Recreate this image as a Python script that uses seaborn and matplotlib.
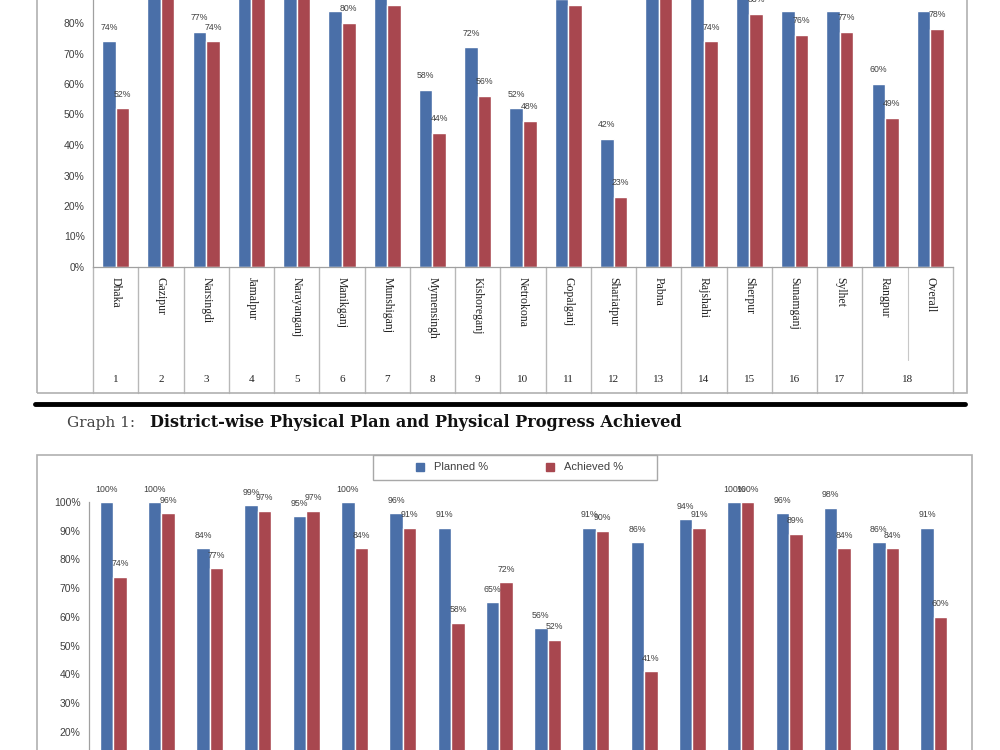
import matplotlib
matplotlib.use("Agg")
import matplotlib.pyplot as plt
import matplotlib.transforms as mtransforms
from matplotlib.patches import Rectangle
from matplotlib.lines import Line2D
import seaborn as sns
import pandas as pd

# ---------------- data ----------------
series_names = ["Planned %", "Achieved %"]

top_categories = ["Dhaka", "Gazipur", "Narsingdi", "Jamalpur", "Narayanganj", "Manikganj",
                  "Munshiganj", "Mymensingh", "Kishoreganj", "Netrokona", "Gopalganj",
                  "Shariatpur", "Pabna", "Rajshahi", "Sherpur", "Sunamganj", "Sylhet",
                  "Rangpur", "Overall"]
top_numbers = ["1", "2", "3", "4", "5", "6", "7", "8", "9", "10", "11", "12", "13",
               "14", "15", "16", "17", "18"]
top_planned = [74, 100, 77, 100, 100, 84, 90, 58, 72, 52, 88, 42, 100, 92, 90, 84, 84, 60, 84]
top_achieved = [52, 99, 74, 100, 100, 80, 86, 44, 56, 48, 86, 23, 98, 74, 83, 76, 77, 49, 78]

bottom_categories = ["D1", "D2", "D3", "D4", "D5", "D6", "D7", "D8", "D9", "D10", "D11",
                     "D12", "D13", "D14", "D15", "D16", "D17", "D18"]
bottom_planned = [100, 100, 84, 99, 95, 100, 96, 91, 65, 56, 91, 86, 94, 100, 96, 98, 86, 91]
bottom_achieved = [74, 96, 77, 97, 97, 84, 91, 58, 72, 52, 90, 41, 91, 100, 89, 84, 84, 60]

y_ticks = [0, 10, 20, 30, 40, 50, 60, 70, 80, 90, 100]
caption_lead = "Graph 1: "
caption_main = "District-wise Physical Plan and Physical Progress Achieved"

# ---------------- style ----------------
sns.set_style("white")
plt.rcParams["font.family"] = ["Liberation Sans", "DejaVu Sans"]
BLUE = "#4A6FA8"
RED = "#A8474F"
GRID = "#A0A0A0"
TXT = "#404040"
SERIF = ["Liberation Serif", "DejaVu Serif"]
WIDE_SERIF = ["DejaVu Serif"]

W, H = 1000, 750
fig = plt.figure(figsize=(10, 7.5), dpi=100)


def fx(px):
    return px / W


def fy(py):
    return 1 - py / H


def long_df(cats, planned, achieved):
    return pd.DataFrame({
        "district": list(cats) * 2,
        "series": [series_names[0]] * len(cats) + [series_names[1]] * len(cats),
        "value": list(planned) + list(achieved),
    })


def style_axes(ax, pad):
    ax.set_ylim(0, 100)
    ax.set_yticks(y_ticks)
    ax.set_yticklabels([f"{t}%" for t in y_ticks], fontsize=7.5, color=TXT)
    ax.tick_params(axis="y", length=3, direction="out", color=GRID, pad=3)
    ax.tick_params(axis="x", length=0, labelbottom=False)
    ax.set_xlabel("")
    ax.set_ylabel("")
    for s in ["top", "right"]:
        ax.spines[s].set_visible(False)
    for s in ["left", "bottom"]:
        ax.spines[s].set_color(GRID)
        ax.spines[s].set_linewidth(0.9)
    ax.set_facecolor("none")
    for c in ax.containers:
        ax.bar_label(c, labels=[f"{int(round(v))}%" for v in c.datavalues],
                     padding=pad, fontsize=6.3, color=TXT)


# ---------------- top chart ----------------
top_px0, top_pxh = 267, 305
ax1 = fig.add_axes([fx(93), fy(top_px0), fx(953) - fx(93), top_pxh / H])
sns.barplot(data=long_df(top_categories, top_planned, top_achieved), x="district", y="value",
            hue="series", palette=[BLUE, RED], width=0.6, saturation=1, errorbar=None,
            legend=False, ax=ax1)
style_axes(ax1, 7)
ax1.set_xlim(-0.5, len(top_categories) - 0.5)

trans = mtransforms.blended_transform_factory(ax1.transData, ax1.transAxes)


def ay(py):
    return -(py - top_px0) / top_pxh


for k in range(-1, len(top_categories)):
    xline = k + 0.5
    if k == len(top_categories) - 2:
        ax1.plot([xline, xline], [0, ay(360)], transform=trans, color="#C8C8C8",
                 lw=0.8, clip_on=False)
    else:
        ax1.plot([xline, xline], [0, ay(393)], transform=trans, color="#B8B8B8",
                 lw=1.0, clip_on=False)

for i, name in enumerate(top_categories):
    ax1.text(i, ay(277), name, rotation=270, ha="center", va="top", transform=trans,
             fontsize=8.5, family=SERIF, color="#222222")
for i, num in enumerate(top_numbers):
    xpos = i if i < len(top_numbers) - 1 else i + 0.5
    ax1.text(xpos, ay(380), num, ha="center", va="center", transform=trans,
             fontsize=8, family=SERIF, color="#222222")

# frame of top chart
fig.add_artist(Rectangle((fx(37), fy(393)), fx(967) - fx(37), 1.0,
                         transform=fig.transFigure, fill=False, ec="#B0B0B0", lw=1.2))

# thick rule and caption
fig.add_artist(Line2D([fx(35), fx(965)], [fy(404), fy(404)], color="black", lw=3.5,
                      transform=fig.transFigure))
fig.text(fx(67), fy(423), caption_lead, family=WIDE_SERIF, fontsize=11, va="center",
         color="#444444")
fig.text(fx(150), fy(423), caption_main, family=WIDE_SERIF, fontsize=11.6, fontweight="bold",
         va="center", color="#111111")

# ---------------- bottom chart ----------------
ax2 = fig.add_axes([fx(89), fy(789), fx(958) - fx(89), 287 / H])
sns.barplot(data=long_df(bottom_categories, bottom_planned, bottom_achieved), x="district",
            y="value", hue="series", palette=[BLUE, RED], width=0.56, saturation=1,
            errorbar=None, legend=False, ax=ax2)
style_axes(ax2, 6)
ax2.set_xlim(-0.5, len(bottom_categories) - 0.5)

fig.add_artist(Rectangle((fx(37), -0.2), fx(972) - fx(37), fy(455) + 0.2,
                         transform=fig.transFigure, fill=False, ec="#B0B0B0", lw=1.2))

# legend
fig.add_artist(Rectangle((fx(373), fy(480)), fx(657) - fx(373), 25 / H,
                         transform=fig.transFigure, fill=False, ec="#A8A8A8", lw=1.0))
handles = [Line2D([], [], marker="s", linestyle="none", markersize=6,
                  markerfacecolor=c, markeredgecolor=c) for c in (BLUE, RED)]
fig.legend(handles, series_names, ncol=2, loc="center",
           bbox_to_anchor=(fx(516), fy(467.5)), bbox_transform=fig.transFigure,
           frameon=False, fontsize=8, handletextpad=0.3, columnspacing=4.5,
           labelcolor=TXT)

fig.savefig("out.png", dpi=100)
